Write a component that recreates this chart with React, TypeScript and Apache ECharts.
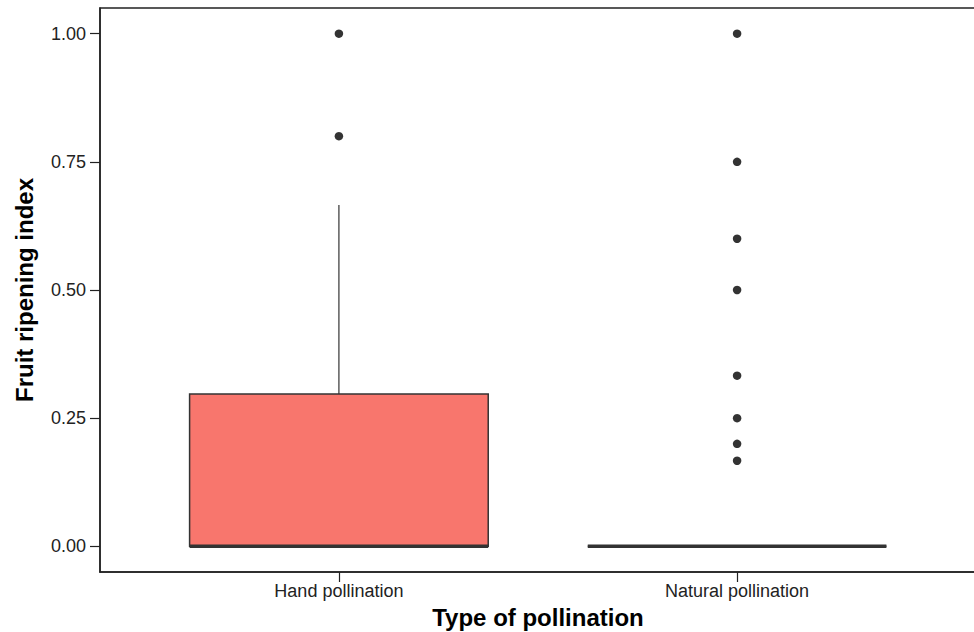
import React, { useEffect, useRef } from "react";
import * as echarts from "echarts";

const categories = ["Hand pollination", "Natural pollination"];
// [min, q1, median, q3, max]
const boxStats = [
  [0, 0, 0, 0.297, 0.666],
  [0, 0, 0, 0, 0],
];
const handOutliers = [1.0, 0.8];
const naturalOutliers = [1.0, 0.75, 0.6, 0.5, 0.333, 0.25, 0.2, 0.167];
const yTicks = [0, 0.25, 0.5, 0.75, 1.0];

const FONT = "Liberation Sans, Arial, sans-serif";

export default function App() {
  const ref = useRef<HTMLDivElement>(null);
  useEffect(() => {
    if (!ref.current) return;
    const chart = echarts.init(ref.current, null, { renderer: "svg" });
    const boxData = boxStats.map((s, i) => [i + 1, ...s]);
    const outlierData: number[][] = [
      ...handOutliers.map((v) => [1, v]),
      ...naturalOutliers.map((v) => [2, v]),
    ];
    chart.setOption({
      animation: false,
      backgroundColor: "#ffffff",
      grid: {
        left: 100,
        right: -2,
        top: 8,
        bottom: 60,
        containLabel: false,
        outerBoundsMode: "none",
        show: true,
        borderColor: "#222",
        borderWidth: 1.5,
        backgroundColor: "transparent",
      },
      xAxis: {
        type: "value",
        min: 0.4,
        max: 2.6,
        name: "Type of pollination",
        nameLocation: "middle",
        nameGap: 33,
        nameTextStyle: { fontFamily: FONT, fontSize: 24, fontWeight: "bold", color: "#000" },
        splitLine: { show: false },
        axisLine: { show: true, onZero: false, lineStyle: { color: "#222", width: 1.5 } },
        axisTick: { show: true, customValues: [1, 2], length: 10, lineStyle: { color: "#222", width: 1.2 } },
        axisLabel: {
          customValues: [1, 2],
          formatter: (v: number) => categories[Math.round(v) - 1] ?? "",
          fontFamily: FONT,
          fontSize: 18,
          color: "#222",
          margin: 10,
        },
      },
      yAxis: {
        type: "value",
        min: -0.05,
        max: 1.05,
        name: "Fruit ripening index",
        nameLocation: "middle",
        nameGap: 64,
        nameTextStyle: { fontFamily: FONT, fontSize: 24, fontWeight: "bold", color: "#000" },
        splitLine: { show: false },
        axisLine: { show: true, onZero: false, lineStyle: { color: "#222", width: 1.5 } },
        axisTick: { show: true, customValues: yTicks, length: 10, lineStyle: { color: "#222", width: 1.2 } },
        axisLabel: {
          customValues: yTicks,
          formatter: (v: number) => v.toFixed(2),
          fontFamily: FONT,
          fontSize: 18,
          color: "#222",
          margin: 14,
        },
      },
      series: [
        {
          type: "custom",
          data: boxData,
          encode: { x: 0, y: [1, 2, 3, 4, 5] },
          renderItem: (params: any, api: any) => {
            const x = api.value(0);
            const mn = api.value(1);
            const q1 = api.value(2);
            const med = api.value(3);
            const q3 = api.value(4);
            const mx = api.value(5);
            const halfW = api.size([0.75, 0])[0] / 2;
            const pQ3 = api.coord([x, q3]);
            const pQ1 = api.coord([x, q1]);
            const pMed = api.coord([x, med]);
            const pMin = api.coord([x, mn]);
            const pMax = api.coord([x, mx]);
            const stroke = "#333";
            const children: any[] = [];
            if (pMax[1] < pQ3[1]) {
              children.push({
                type: "line",
                shape: { x1: pQ3[0], y1: pQ3[1], x2: pMax[0], y2: pMax[1] },
                style: { stroke, lineWidth: 1.2 },
              });
            }
            if (pMin[1] > pQ1[1]) {
              children.push({
                type: "line",
                shape: { x1: pQ1[0], y1: pQ1[1], x2: pMin[0], y2: pMin[1] },
                style: { stroke, lineWidth: 1.2 },
              });
            }
            children.push({
              type: "rect",
              shape: { x: pQ3[0] - halfW, y: pQ3[1], width: halfW * 2, height: pQ1[1] - pQ3[1] },
              style: { fill: q3 > q1 ? "#F8766D" : "none", stroke, lineWidth: 1.5 },
            });
            children.push({
              type: "line",
              shape: { x1: pMed[0] - halfW, y1: pMed[1], x2: pMed[0] + halfW, y2: pMed[1] },
              style: { stroke, lineWidth: 3.5 },
            });
            return { type: "group", children };
          },
          z: 2,
        },
        {
          type: "scatter",
          data: outlierData,
          symbol: "circle",
          symbolSize: 8.5,
          itemStyle: { color: "#333", opacity: 1 },
          z: 3,
        },
      ],
    });
    return () => chart.dispose();
  }, []);
  return (
    <div
      ref={ref}
      style={{ position: "fixed", left: 0, top: 0, width: 974, height: 632, background: "#fff" }}
    />
  );
}
